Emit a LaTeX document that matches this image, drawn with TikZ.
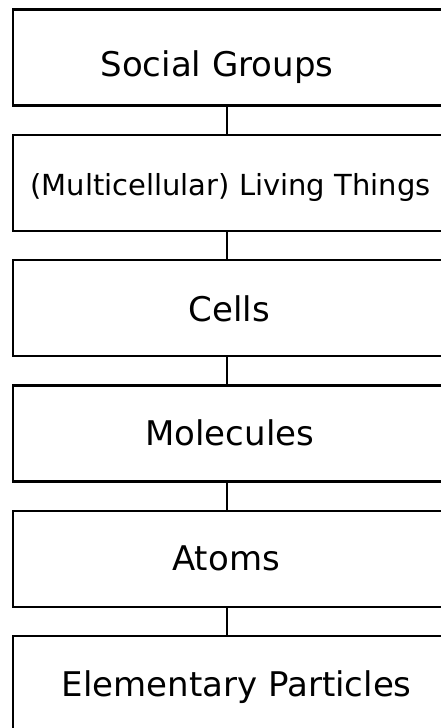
\documentclass[tikz,border=0pt]{standalone}
\usepackage{fontspec}
\setmainfont{DejaVu Sans}
\begin{document}
\begin{tikzpicture}[x=1pt,y=-1pt,
  level/.style={draw=black, line width=2.3pt, fill=none, rectangle,
    minimum width=432pt, minimum height=96pt, inner sep=0pt},
  lbl/.style={anchor=base, inner sep=0pt, font=\fontsize{34}{40}\selectfont},
  smalllbl/.style={lbl, font=\fontsize{29}{34}\selectfont},
  link/.style={draw=black, line width=2.3pt}]
\useasboundingbox (0,0) rectangle (441,728);
\fill[white] (0,0) rectangle (441,728);
\coordinate (spine) at (226.7,0);

% stacked levels of organisation
\node[level] (b1) at (229,57.5) {};
\node[level] (b2) at (229,182.8) {};
\node[level] (b3) at (229,308.1) {};
\node[level] (b4) at (229,433.4) {};
\node[level] (b5) at (229,558.7) {};
\node[level] (b6) at (229,684) {};

% level names
\node[lbl] (t1) at (217,76) {Social Groups};
\node[smalllbl] (t2) at (230.5,195.7) {(Multicellular) Living Things};
\node[lbl] (t3) at (229.5,321.7) {Cells};
\node[lbl] (t4) at (229.7,445) {Molecules};
\node[lbl] (t5) at (226,570) {Atoms};
\node[lbl] (t6) at (236.7,696) {Elementary Particles};

% vertical links between neighbouring levels
\foreach \a/\b in {b1/b2,b2/b3,b3/b4,b4/b5,b5/b6}
  \draw[link] (\a.south -| spine) -- (\b.north -| spine);
\end{tikzpicture}
\end{document}
